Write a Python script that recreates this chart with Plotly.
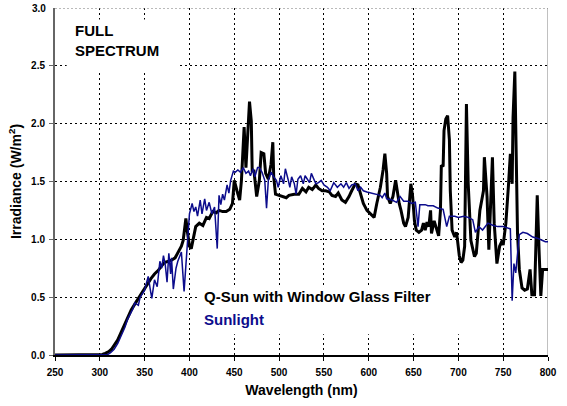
import plotly.graph_objects as go

# Q-Sun with Window Glass Filter (black)
qsun_nm = [250, 300, 303, 306, 310, 313, 316, 320, 324, 328, 332, 335, 339, 343, 347, 350, 354, 357, 361, 365,
           369, 372, 376, 380, 384, 387, 391, 393, 396, 398, 400, 402, 404, 407, 411, 415, 419, 422, 426, 430,
           433, 437, 441, 445, 448, 450, 453, 456, 458, 461, 463, 465, 467, 469, 470, 472, 475, 478, 480, 483,
           485, 488, 491, 493, 494, 496, 500, 504, 508, 511, 517, 522, 526, 530, 533, 537, 541, 544, 548, 552,
           556, 559, 563, 566, 570, 574, 578, 581, 585, 588, 591, 594, 598, 602, 606, 609, 613, 616, 618, 620,
           621, 624, 627, 630, 632, 634, 636, 639, 641, 644, 647, 649, 651, 653, 656, 659, 661, 663, 665, 667,
           669, 670, 673, 676, 678, 680, 681, 683, 684, 686, 688, 690, 691, 693, 696, 698, 701, 703, 705, 707,
           709, 711, 714, 718, 720, 724, 728, 729, 732, 734, 736, 738, 740, 743, 746, 749, 750, 753, 756, 758,
           760, 761, 763, 764, 766, 768, 771, 774, 777, 780, 782, 785, 786, 788, 790, 792, 794, 796, 800]
qsun_val = [0, 0, 0.005, 0.015, 0.03, 0.05, 0.08, 0.13, 0.20, 0.27, 0.34, 0.39, 0.44, 0.49, 0.53, 0.57, 0.62, 0.66, 0.70, 0.73,
            0.77, 0.80, 0.81, 0.82, 0.84, 0.88, 0.94, 0.99, 1.18, 1.05, 0.94, 0.92, 0.99, 1.11, 1.14, 1.12, 1.19, 1.18, 1.24, 1.23,
            1.25, 1.24, 1.24, 1.26, 1.31, 1.51, 1.42, 1.34, 1.51, 1.97, 1.62, 1.88, 2.19, 2.02, 1.59, 1.59, 1.37, 1.51, 1.75, 1.74,
            1.57, 1.52, 1.65, 1.84, 1.54, 1.39, 1.38, 1.37, 1.36, 1.38, 1.39, 1.39, 1.44, 1.41, 1.45, 1.43, 1.47, 1.44, 1.42, 1.42,
            1.41, 1.38, 1.37, 1.40, 1.34, 1.32, 1.37, 1.42, 1.48, 1.47, 1.39, 1.31, 1.25, 1.22, 1.19, 1.31, 1.45, 1.60, 1.74, 1.57,
            1.37, 1.31, 1.37, 1.51, 1.39, 1.31, 1.25, 1.14, 1.11, 1.19, 1.48, 1.37, 1.16, 1.08, 1.06, 1.08, 1.14, 1.08, 1.15, 1.11,
            1.25, 1.05, 1.16, 1.08, 1.03, 1.25, 1.64, 1.63, 1.94, 2.04, 2.07, 1.86, 1.42, 1.08, 1.02, 1.06, 0.86, 0.80, 0.82, 0.94,
            2.17, 1.48, 0.99, 0.85, 0.88, 1.25, 1.42, 1.71, 1.37, 0.91, 1.34, 1.71, 1.14, 0.79, 0.94, 0.99, 0.95, 1.14, 1.48, 1.74,
            1.48, 2.05, 2.45, 1.91, 1.05, 0.74, 0.58, 0.56, 0.57, 0.74, 0.52, 0.52, 0.91, 1.38, 0.91, 0.51, 0.74, 0.74, 0.74]

# Sunlight (blue)
sun_nm = [250, 305, 309, 312, 316, 320, 324, 328, 331, 334, 337, 339, 341, 343, 345, 347, 350, 352, 354, 356,
          358, 361, 364, 367, 369, 371, 373, 375, 377, 379, 380, 382, 385, 387, 391, 394, 398, 400, 403, 405,
          407, 409, 412, 414, 417, 419, 422, 425, 428, 431, 433, 435, 437, 439, 442, 444, 446, 449, 451, 454,
          457, 460, 463, 466, 468, 471, 473, 476, 478, 481, 484, 486, 488, 491, 494, 497, 499, 502, 505, 507,
          510, 512, 514, 517, 519, 521, 524, 527, 529, 532, 534, 536, 539, 541, 544, 547, 550, 554, 557, 561,
          565, 569, 572, 575, 578, 581, 585, 588, 591, 594, 598, 603, 609, 613, 615, 618, 620, 626, 631, 635,
          639, 644, 648, 652, 655, 657, 663, 666, 672, 677, 683, 687, 690, 696, 700, 706, 711, 716, 719, 723,
          727, 733, 739, 744, 750, 755, 758, 760, 762, 764, 766, 768, 772, 777, 783, 788, 794, 797, 800]
sun_val = [0, 0, 0.005, 0.02, 0.05, 0.10, 0.17, 0.24, 0.31, 0.36, 0.40, 0.45, 0.44, 0.43, 0.50, 0.52, 0.56, 0.62, 0.68, 0.58,
           0.49, 0.65, 0.59, 0.81, 0.75, 0.86, 0.78, 0.63, 0.88, 0.70, 0.84, 0.57, 0.75, 0.81, 0.89, 0.55, 0.97, 1.22, 1.31, 1.24,
           1.28, 1.20, 1.34, 1.22, 1.35, 1.25, 1.32, 1.22, 1.28, 0.92, 1.38, 1.30, 1.39, 1.34, 1.47, 1.40, 1.51, 1.59, 1.58, 1.60,
           1.58, 1.62, 1.57, 1.59, 1.55, 1.61, 1.54, 1.62, 1.62, 1.58, 1.51, 1.27, 1.51, 1.58, 1.54, 1.51, 1.45, 1.55, 1.48, 1.61,
           1.52, 1.45, 1.54, 1.48, 1.39, 1.52, 1.55, 1.48, 1.55, 1.51, 1.49, 1.57, 1.52, 1.48, 1.49, 1.51, 1.47, 1.45, 1.42, 1.49,
           1.45, 1.48, 1.45, 1.49, 1.44, 1.47, 1.48, 1.42, 1.45, 1.42, 1.41, 1.40, 1.39, 1.38, 1.36, 1.40, 1.35, 1.34, 1.32, 1.37,
           1.33, 1.33, 1.31, 1.32, 1.11, 1.30, 1.30, 1.29, 1.29, 1.27, 1.26, 1.11, 1.20, 1.20, 1.19, 1.20, 1.19, 1.17, 1.06, 1.11,
           1.08, 1.14, 1.12, 1.11, 1.11, 1.10, 1.09, 0.47, 0.79, 0.71, 0.91, 1.04, 1.06, 1.05, 1.02, 1.01, 0.99, 0.98, 0.98]

x_ticks = [250, 300, 350, 400, 450, 500, 550, 600, 650, 700, 750, 800]
y_ticks = [0.0, 0.5, 1.0, 1.5, 2.0, 2.5, 3.0]
y_tick_text = ["0.0", "0.5", "1.0", "1.5", "2.0", "2.5", "3.0"]

FONT = "Liberation Sans, Arial, sans-serif"

fig = go.Figure()
fig.add_trace(go.Scatter(x=qsun_nm, y=qsun_val, mode="lines",
                         line=dict(color="black", width=3), name="Q-Sun with Window Glass Filter"))
fig.add_trace(go.Scatter(x=sun_nm, y=sun_val, mode="lines",
                         line=dict(color="#0c0c8c", width=1.5), name="Sunlight"))

# white boxes behind the text labels (hide the grid)
fig.add_shape(type="rect", x0=263, x1=389, y0=2.45, y1=2.90, xref="x", yref="y",
              fillcolor="white", line=dict(width=0), layer="between")
fig.add_shape(type="rect", x0=410, x1=712, y0=0.18, y1=0.60, xref="x", yref="y",
              fillcolor="white", line=dict(width=0), layer="between")
# right border and grey top line
fig.add_shape(type="line", x0=800, x1=800, y0=0, y1=3, xref="x", yref="y",
              line=dict(color="#808080", width=1), layer="between")
fig.add_shape(type="line", x0=250, x1=800, y0=3, y1=3, xref="x", yref="y",
              line=dict(color="#777777", width=1, dash="2px,2px"), layer="between")

fig.add_annotation(x=270, y=2.72, xref="x", yref="y", text="<b>FULL<br>SPECTRUM</b>",
                   showarrow=False, xanchor="left", yanchor="middle", align="left",
                   font=dict(family=FONT, size=15, color="black"))
fig.add_annotation(x=413.5, y=0.51, xref="x", yref="y", text="<b>Q-Sun with Window Glass Filter</b>",
                   showarrow=False, xanchor="left", yanchor="middle",
                   font=dict(family=FONT, size=15, color="black"))
fig.add_annotation(x=413.5, y=0.31, xref="x", yref="y", text="<b>Sunlight</b>",
                   showarrow=False, xanchor="left", yanchor="middle",
                   font=dict(family=FONT, size=15, color="#0c0c8c"))

fig.update_layout(
    width=567, height=406,
    margin=dict(l=55, r=19, t=8, b=51),
    plot_bgcolor="white", paper_bgcolor="white",
    showlegend=False,
    font=dict(family=FONT, color="black"),
)
fig.update_xaxes(
    range=[250, 800], tickmode="array", tickvals=x_ticks,
    ticktext=[f"<b>{v}</b>" for v in x_ticks],
    tickfont=dict(family=FONT, size=10, color="black"),
    ticks="outside", ticklen=4, tickcolor="black", ticklabelstandoff=3,
    showline=True, linecolor="black", linewidth=1.5,
    showgrid=True, gridcolor="black", griddash="2px,3px", gridwidth=1,
    zeroline=False,
    title=dict(text="<b>Wavelength (nm)</b>", font=dict(family=FONT, size=14, color="black"), standoff=8),
)
fig.update_yaxes(
    range=[0, 3], tickmode="array", tickvals=y_ticks[:-1],
    ticktext=[f"<b>{t}</b>" for t in y_tick_text[:-1]],
    tickfont=dict(family=FONT, size=10, color="black"),
    ticks="outside", ticklen=4, tickcolor="#666666", ticklabelstandoff=2,
    showline=True, linecolor="#666666", linewidth=2,
    showgrid=True, gridcolor="black", griddash="2px,3px", gridwidth=1,
    zeroline=False,
    title=dict(text="<b>Irradiance (W/m<sup>2</sup>)</b>", font=dict(family=FONT, size=14, color="black"), standoff=6),
)
# label for the top value (3.0), drawn as an annotation at the axis edge
fig.add_annotation(x=0, y=3.0, xref="paper", yref="y", text=f"<b>{y_tick_text[-1]}</b>",
                   showarrow=False, xanchor="right", yanchor="middle", xshift=-7,
                   font=dict(family=FONT, size=10, color="black"))

fig.write_html("out.html")
